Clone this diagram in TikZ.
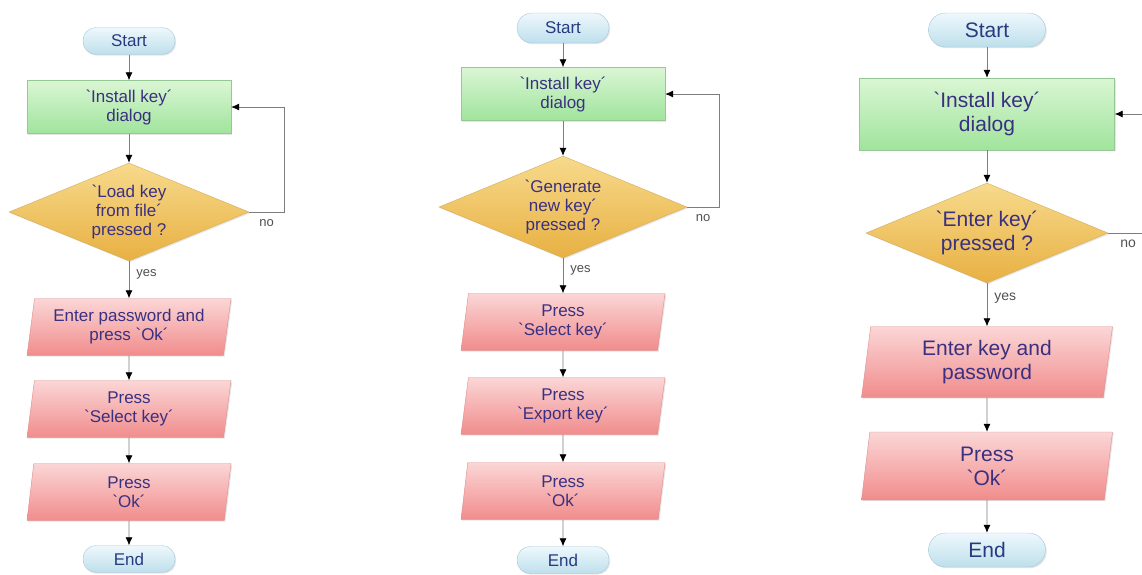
\documentclass[tikz,border=0pt]{standalone}
\usepackage{fontspec}
\newfontfamily\flowfont{Liberation Sans}
\usetikzlibrary{shapes.geometric,arrows.meta,shadows}

\definecolor{termtop}{RGB}{238,248,252}
\definecolor{termbot}{RGB}{190,223,236}
\definecolor{termline}{RGB}{165,200,216}
\definecolor{termtext}{RGB}{40,58,128}
\definecolor{dlgtop}{RGB}{218,246,212}
\definecolor{dlgbot}{RGB}{160,228,156}
\definecolor{dlgline}{RGB}{150,200,150}
\definecolor{asktop}{RGB}{247,218,140}
\definecolor{askbot}{RGB}{232,176,66}
\definecolor{askline}{RGB}{212,172,92}
\definecolor{acttop}{RGB}{251,214,214}
\definecolor{actbot}{RGB}{241,140,140}
\definecolor{actline}{RGB}{222,140,140}
\definecolor{inktext}{RGB}{58,48,128}
\definecolor{flowline}{RGB}{125,125,125}
\definecolor{lbltext}{RGB}{80,80,80}

\begin{document}
\begin{tikzpicture}[x=1pt,y=-1pt,
    >={Latex[length=8pt,width=7pt,color=black]},
    base/.style={font=\flowfont\fontsize{17}{19}\selectfont, text=inktext, align=center, inner sep=2pt,
        drop shadow={shadow xshift=1.2pt,shadow yshift=-1.2pt,opacity=.2}},
    term/.style={base, rectangle, rounded corners=13pt, minimum width=92pt, minimum height=27pt,
        draw=termline, top color=termtop, bottom color=termbot, text=termtext},
    dialog/.style={base, rectangle, minimum width=204pt, minimum height=53pt,
        draw=dlgline, top color=dlgtop, bottom color=dlgbot},
    decision/.style={base, diamond, aspect=2.5, inner sep=0pt, minimum width=240pt, minimum height=98pt,
        draw=askline, top color=asktop, bottom color=askbot},
    action/.style={base, trapezium, trapezium left angle=79, trapezium right angle=101,
        trapezium stretches body, minimum width=204pt, minimum height=57pt,
        draw=actline, top color=acttop, bottom color=actbot},
    flow/.style={draw=flowline, line width=0.8pt, ->},
    lbl/.style={font=\flowfont\fontsize{13}{15}\selectfont, text=lbltext, inner sep=2pt},
    yes/.style={lbl, right=5pt, pos=.35},
    no/.style={lbl, below=5pt},
    big/.style={font=\flowfont\fontsize{21}{24}\selectfont}]
    \useasboundingbox (0,0) rectangle (1142,574);
    \clip (0,0) rectangle (1142,574);

    % load key from file
    \node (start1) [term] at (129,41) {Start};
    \node (dlg1) [dialog] at (129,107) {`Install key´\\dialog};
    \node (ask1) [decision] at (129,212) {`Load key\\from file´\\pressed ?};
    \node (pwd1) [action] at (129,327) {Enter password and\\press `Ok´};
    \node (sel1) [action] at (129,409) {Press\\`Select key´};
    \node (ok1) [action] at (129,492) {Press\\`Ok´};
    \node (end1) [term] at (129,559) {End};
    \draw[flow] (start1) -- (dlg1);
    \draw[flow] (dlg1) -- (ask1);
    \draw[flow] (ask1) -- node[yes]{yes} (pwd1);
    \draw[flow] (ask1.east) -- node[no]{no} ++(35,0) |- (dlg1.east);
    \draw[flow] (pwd1) -- (sel1);
    \draw[flow] (sel1) -- (ok1);
    \draw[flow] (ok1) -- (end1);

    % generate new key
    \node (start2) [term, minimum height=30pt, rounded corners=15pt] at (563,28) {Start};
    \node (dlg2) [dialog] at (563,94) {`Install key´\\dialog};
    \node (ask2) [decision, minimum width=248pt, minimum height=102pt] at (563,207) {`Generate\\new key´\\pressed ?};
    \node (sel2) [action] at (563,322) {Press\\`Select key´};
    \node (exp2) [action] at (563,406) {Press\\`Export key´};
    \node (ok2) [action] at (563,491) {Press\\`Ok´};
    \node (end2) [term] at (563,560) {End};
    \draw[flow] (start2) -- (dlg2);
    \draw[flow] (dlg2) -- (ask2);
    \draw[flow] (ask2) -- node[yes]{yes} (sel2);
    \draw[flow] (ask2.east) -- node[no]{no} ++(32,0) |- (dlg2.east);
    \draw[flow] (sel2) -- (exp2);
    \draw[flow] (exp2) -- (ok2);
    \draw[flow] (ok2) -- (end2);

    % enter key
    \node (start3) [term, big, minimum width=117pt, minimum height=34pt, rounded corners=17pt] at (987,30) {Start};
    \node (dlg3) [dialog, big, minimum width=255pt, minimum height=72pt] at (987,114) {`Install key´\\dialog};
    \node (ask3) [decision, big, minimum width=242pt, minimum height=100pt] at (987,233) {`Enter key´\\pressed ?};
    \node (key3) [action, big, minimum width=251pt, minimum height=71pt] at (987,362) {Enter key and\\password};
    \node (ok3) [action, big, minimum width=251pt, minimum height=68pt] at (987,466) {Press\\`Ok´};
    \node (end3) [term, big, minimum width=117pt, minimum height=34pt, rounded corners=17pt] at (987,550) {End};
    \draw[flow] (start3) -- (dlg3);
    \draw[flow] (dlg3) -- (ask3);
    \draw[flow] (ask3) -- node[yes, font=\flowfont\fontsize{14}{16}\selectfont]{yes} (key3);
    \draw[flow] (ask3.east) -- node[no, font=\flowfont\fontsize{14}{16}\selectfont]{no} ++(40,0) |- (dlg3.east);
    \draw[flow] (key3) -- (ok3);
    \draw[flow] (ok3) -- (end3);
\end{tikzpicture}
\end{document}
